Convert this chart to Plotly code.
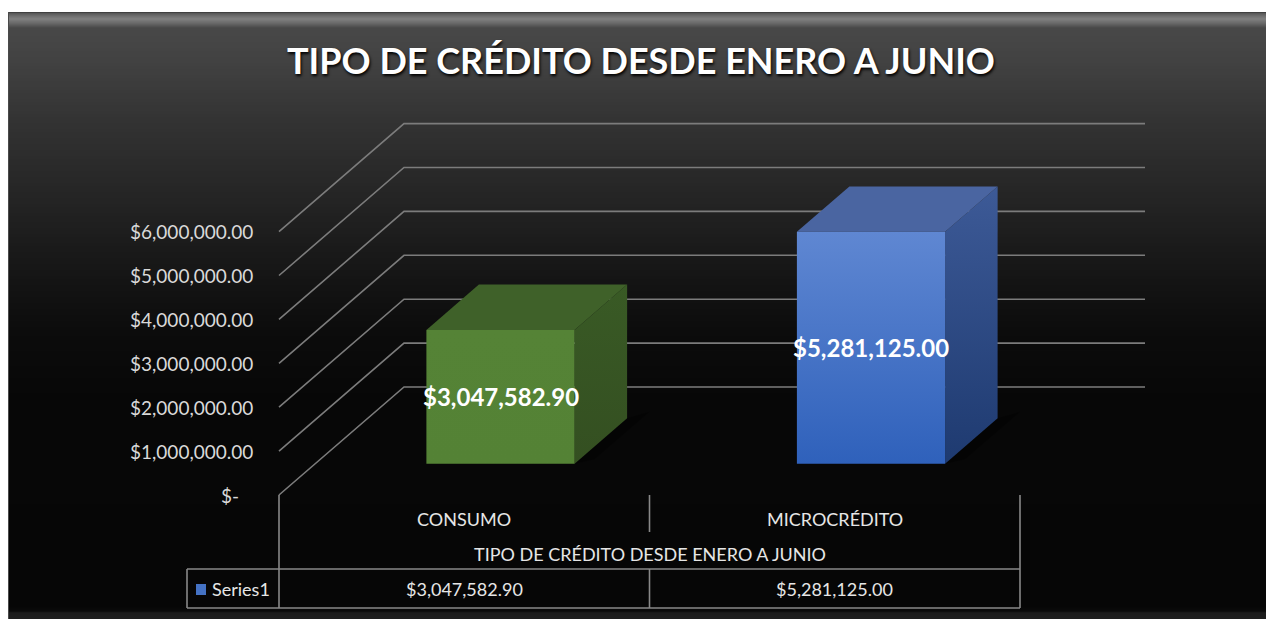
import plotly.graph_objects as go

# ---- data -------------------------------------------------------------
categories = ["CONSUMO", "MICROCRÉDITO"]
values = [3047582.90, 5281125.00]
series_name = "Series1"
chart_title = "TIPO DE CRÉDITO DESDE ENERO A JUNIO"
axis_title = "TIPO DE CRÉDITO DESDE ENERO A JUNIO"
tick_values = [0, 1_000_000, 2_000_000, 3_000_000, 4_000_000, 5_000_000, 6_000_000]

# ---- page / 3-D box geometry (pixels) ---------------------------------
W, H = 1266, 619
FLOOR_LEFT_PX = 279.0      # front-left corner of the floor
SLOT_PX = 370.5            # width of one category slot
ZERO_PX = 495.0            # y pixel of value 0 on the front edge
UNIT_PX = 43.9             # pixels per 1,000,000
DEPTH_DX_PX = 125.0        # horizontal shift from front to back wall
DEPTH_DY_PX = 108.0        # vertical shift from front to back wall

BAR_HALF_W = 0.2           # in category slots
BAR_D0, BAR_D1 = 0.29, 0.71  # bar depth span (0 = front, 1 = back wall)


def px_to_x(px):
    return -0.5 + (px - FLOOR_LEFT_PX) / SLOT_PX


def py_to_v(py):
    return (ZERO_PX - py) / UNIT_PX * 1e6


def py_to_paper(py):
    return 1 - py / H


DX = DEPTH_DX_PX / SLOT_PX
DY = DEPTH_DY_PX / UNIT_PX * 1e6


def proj(x, v, d):
    """Oblique projection of (category x, value v, depth d)."""
    return x + d * DX, v + d * DY


def money(v):
    return "$-" if v == 0 else f"${v:,.2f}"


fig = go.Figure()
shapes = []
annotations = []

# ---- background: frame with dark vertical gradient --------------------
shapes.append(dict(type="rect", xref="paper", yref="paper", x0=0, x1=1, y0=0, y1=1,
                   fillcolor="white", line_width=0, layer="below"))
stops = [(12, 0x2a), (13, 0x55), (16, 0x6e), (19, 0x80), (23, 0x6a), (28, 0x48),
         (60, 0x42), (120, 0x33), (190, 0x26), (260, 0x18), (330, 0x0c),
         (400, 0x07), (606, 0x06), (611, 0x0a), (613, 0x1c), (619, 0x1e)]


def grey_at(py):
    for (a, ga), (b, gb) in zip(stops, stops[1:]):
        if a <= py <= b:
            t = 0 if b == a else (py - a) / (b - a)
            return round(ga + (gb - ga) * t)
    return stops[-1][1]


py = 12
while py < H:
    step = 1 if py < 30 or py > 604 else 3
    g = grey_at(py + step / 2)
    shapes.append(dict(type="rect", xref="paper", yref="paper",
                       x0=8 / W, x1=1, y0=py_to_paper(min(py + step, H)), y1=py_to_paper(py),
                       fillcolor=f"rgb({g},{g},{g})", line_width=0, layer="below"))
    py += step
shapes.append(dict(type="line", xref="paper", yref="paper", x0=8.5 / W, x1=8.5 / W,
                   y0=0, y1=py_to_paper(12), line=dict(color="#4a4a4a", width=1), layer="below"))

# ---- side wall and back wall gridlines ---------------------------------
gx, gy = [], []
for v in tick_values:
    for x, d in [(-0.5, 0), (-0.5, 1), (1.5, 1)]:
        px_, pv = proj(x, v, d)
        gx.append(px_)
        gy.append(pv)
    gx.append(None)
    gy.append(None)
fig.add_trace(go.Scatter(x=gx, y=gy, mode="lines", line=dict(color="#7c7c7c", width=1.6),
                         hoverinfo="skip", showlegend=False))

# ---- 3-D columns -------------------------------------------------------
bar_styles = [
    dict(front=("#548235", "#558336"), top="#3f6129", side=("#344f21", "#395a25")),
    dict(front=("#2f61bb", "#5f87d2"), top="#4a65a1", side=("#1e3a70", "#3d5a97")),
]


def face(points, color=None, gradient=None):
    xs, ys = [], []
    for x, v, d in points:
        a, b = proj(x, v, d)
        xs.append(a)
        ys.append(b)
    xs.append(xs[0])
    ys.append(ys[0])
    kw = dict(x=xs, y=ys, mode="lines", fill="toself", line=dict(width=0),
              hoverinfo="skip", showlegend=False)
    if gradient:
        kw["fillgradient"] = dict(type="vertical",
                                  colorscale=[[0, gradient[0]], [1, gradient[1]]])
    else:
        kw["fillcolor"] = color
    fig.add_trace(go.Scatter(**kw))


for i, (cat, val) in enumerate(zip(categories, values)):
    st = bar_styles[i]
    xl, xr = i - BAR_HALF_W, i + BAR_HALF_W
    # soft floor shadow
    face([(xr, 0, BAR_D0), (xr + 0.04, 0, BAR_D0 + 0.04), (xr + 0.04, 0, BAR_D1 + 0.06),
          (xr, 0, BAR_D1)], color="rgba(0,0,0,0.35)")
    face([(xr, 0, BAR_D0), (xr, 0, BAR_D1), (xr, val, BAR_D1), (xr, val, BAR_D0)],
         gradient=st["side"])
    face([(xl, val, BAR_D0), (xr, val, BAR_D0), (xr, val, BAR_D1), (xl, val, BAR_D1)],
         color=st["top"])
    face([(xl, 0, BAR_D0), (xr, 0, BAR_D0), (xr, val, BAR_D0), (xl, val, BAR_D0)],
         gradient=st["front"])
    lx, lv = proj(i, val / 2, BAR_D0)
    annotations.append(dict(x=lx, y=lv, xref="x", yref="y", text=money(val),
                            showarrow=False, xanchor="center", yanchor="middle",
                            font=dict(family="Lato", size=24, color="white", weight="bold")))

# ---- value axis labels (on the front edge of the side wall) ------------
for v in tick_values:
    ax, av = proj(-0.5, v, 0)
    annotations.append(dict(x=ax, y=av, xref="x", yref="y", text=money(v),
                            showarrow=False, xanchor="right", yanchor="middle",
                            xshift=-38 if v == 0 else -24,
                            font=dict(family="Lato", size=19, color="#d9d9d9")))

# ---- data table under the floor ----------------------------------------
line_c = dict(color="#888888", width=1.6)
x_left, x_mid, x_right = -0.5, 0.5, 1.5
x_key = px_to_x(187)
row_top, row_split, row_cat_end, row_bottom = ZERO_PX, 569, 532, 608
table_lines = [
    (x_left, row_top, x_left, row_bottom),
    (x_right, row_top, x_right, row_bottom),
    (x_mid, row_top, x_mid, row_cat_end),
    (x_mid, row_split, x_mid, row_bottom),
    (x_key, row_split, x_key, row_bottom),
    (x_key, row_split, x_right, row_split),
    (x_key, row_bottom, x_right, row_bottom),
]
for x0, y0, x1, y1 in table_lines:
    shapes.append(dict(type="line", xref="x", yref="paper", x0=x0, x1=x1,
                       y0=py_to_paper(y0), y1=py_to_paper(y1), line=line_c))

txt_font = dict(family="Lato", size=18, color="#e6e6e6")


def table_text(x, py_, text, **kw):
    annotations.append(dict(x=x, y=py_to_paper(py_), xref="x", yref="paper", text=text,
                            showarrow=False, yanchor="middle",
                            xanchor=kw.get("xanchor", "center"), font=txt_font))


for i, (cat, val) in enumerate(zip(categories, values)):
    table_text(i, 519, cat)
    table_text(i, 589, money(val))
table_text(0.5, 554, axis_title)
table_text(px_to_x(210), 589, series_name, xanchor="left")
shapes.append(dict(type="rect", xref="x", yref="paper", x0=px_to_x(196), x1=px_to_x(206),
                   y0=py_to_paper(595), y1=py_to_paper(584), fillcolor="#4472c4",
                   line=dict(width=0)))

# ---- title ------------------------------------------------------------
annotations.append(dict(x=641 / W, y=py_to_paper(60), xref="paper", yref="paper",
                        text=chart_title, showarrow=False, xanchor="center", yanchor="middle",
                        font=dict(family="Lato", size=36, color="white", weight="bold",
                                  shadow="1px 2px 3px #000")))

fig.update_layout(
    width=W, height=H,
    margin=dict(l=0, r=0, t=0, b=0),
    paper_bgcolor="white",
    plot_bgcolor="rgba(0,0,0,0)",
    xaxis=dict(range=[px_to_x(0), px_to_x(W)], visible=False, fixedrange=True),
    yaxis=dict(range=[py_to_v(H), py_to_v(0)], visible=False, fixedrange=True),
    shapes=shapes,
    annotations=annotations,
    showlegend=False,
)

fig.write_html("out.html", config={"displayModeBar": False})
